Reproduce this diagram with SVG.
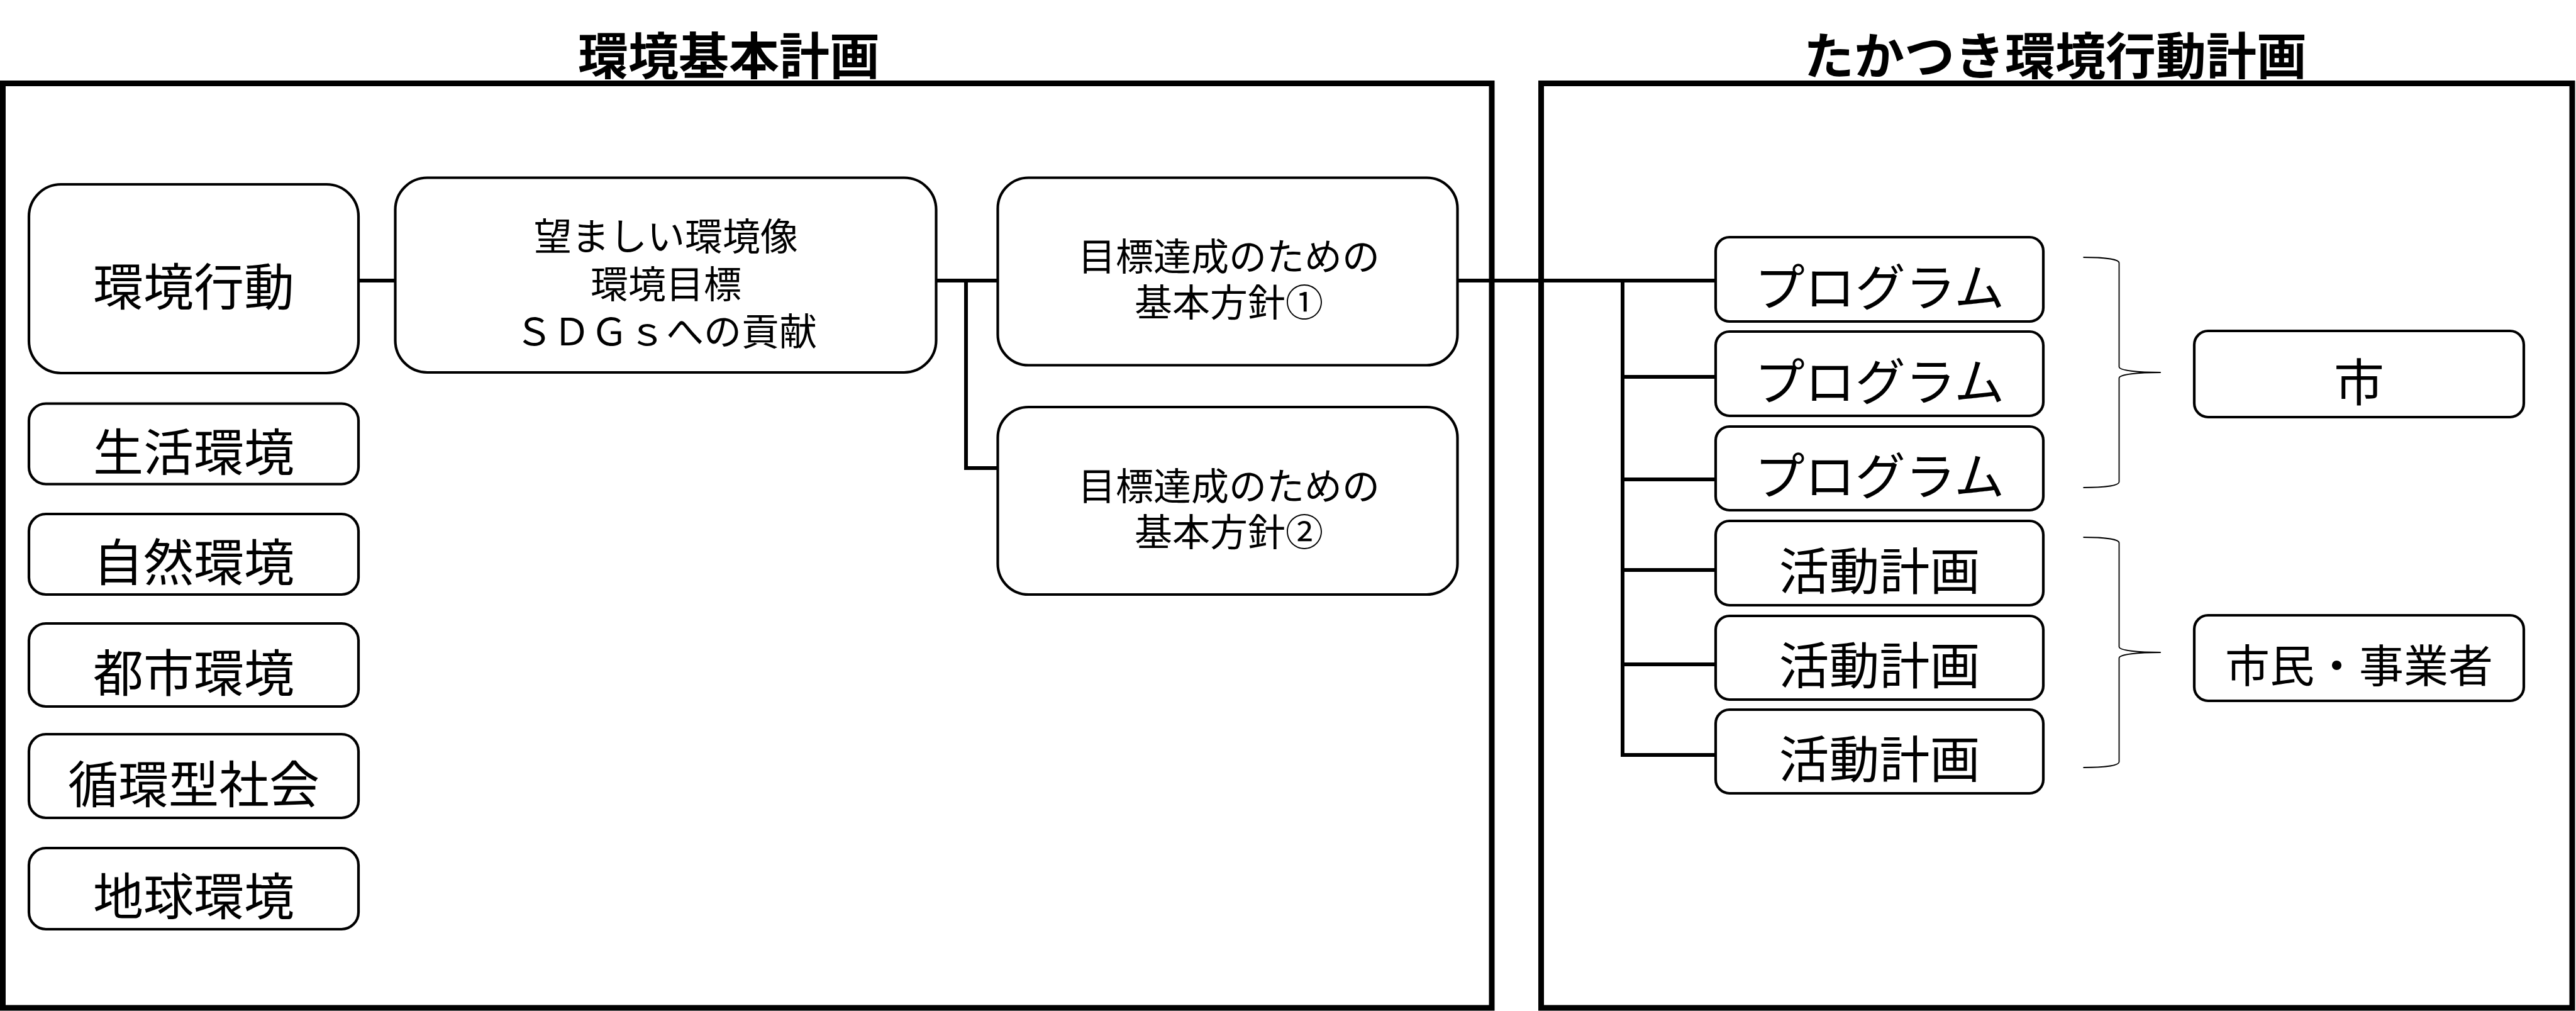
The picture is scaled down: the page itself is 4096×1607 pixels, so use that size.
<svg xmlns="http://www.w3.org/2000/svg" width="4096" height="1607" viewBox="0 0 4096 1607">
<style>
text{font-family:"Noto Sans CJK JP","Noto Sans CJK SC",sans-serif;fill:#000;text-anchor:middle;dominant-baseline:central}
.title{font-size:80px;font-weight:bold}
.big{font-size:80px}
.mid{font-size:71px}
.small{font-size:60px}
.frame{fill:none;stroke:#000;stroke-width:9}
.box{fill:#fff;stroke:#000;stroke-width:4.2}
.conn{fill:none;stroke:#000;stroke-width:6;stroke-linejoin:miter;stroke-linecap:butt}
.brace{fill:none;stroke:#000;stroke-width:1.8}
</style>
<rect width="4096" height="1607" fill="#fff"/>
<g id="frames">
<rect class="frame" x="4.5" y="132.5" width="2367.5" height="1469.5"/>
<rect class="frame" x="2450.5" y="132.5" width="1639.5" height="1469.5"/>
<text class="title" x="1159" y="83">環境基本計画</text>
<text class="title" x="3268" y="83">たかつき環境行動計画</text>
</g>
<g id="connectors">
<path class="conn" d="M570,446 H628.5"/>
<path class="conn" d="M1488.5,446 H1586.5"/>
<path class="conn" d="M1536,446 V744 H1586.5"/>
<path class="conn" d="M2317.5,446 H2728"/>
<path class="conn" d="M2580,446 V1200 H2728"/>
<path class="conn" d="M2580,599 H2728 M2580,762 H2728 M2580,906 H2728 M2580,1056 H2728"/>
<path class="brace" d="M3312.5,409 C3345,409 3369.5,412 3369.5,418 V583 C3369.5,589 3400,592 3435.8,592 C3400,592 3369.5,595 3369.5,601 V766 C3369.5,772 3345,775 3312.5,775"/>
<path class="brace" d="M3312.5,854 C3345,854 3369.5,857 3369.5,863 V1028 C3369.5,1034 3400,1037 3435.8,1037 C3400,1037 3369.5,1040 3369.5,1046 V1211 C3369.5,1217 3345,1220 3312.5,1220"/>
</g>
<g id="n-kankyo-kodo">
<rect class="box" x="46" y="293" width="524" height="300" rx="51"/>
<text class="big" x="308" y="450">環境行動</text>
</g>
<g id="n-seikatsu">
<rect class="box" x="46" y="641.5" width="524" height="128" rx="27"/>
<text class="big" x="308" y="713">生活環境</text>
</g>
<g id="n-shizen">
<rect class="box" x="46" y="817" width="524" height="128" rx="27"/>
<text class="big" x="308" y="888">自然環境</text>
</g>
<g id="n-toshi">
<rect class="box" x="46" y="991" width="524" height="132" rx="27"/>
<text class="big" x="308" y="1064">都市環境</text>
</g>
<g id="n-junkan">
<rect class="box" x="46" y="1167" width="524" height="133" rx="27"/>
<text class="big" x="308" y="1241">循環型社会</text>
</g>
<g id="n-chikyu">
<rect class="box" x="46" y="1348" width="524" height="129" rx="27"/>
<text class="big" x="308" y="1419">地球環境</text>
</g>
<g id="n-nozomashii">
<rect class="box" x="628.5" y="282.5" width="860" height="309.5" rx="51"/>
<text class="small"><tspan x="1059" y="371">望ましい環境像</tspan><tspan x="1059" y="447">環境目標</tspan><tspan x="1059" y="522">ＳＤＧｓへの貢献</tspan></text>
</g>
<g id="n-hoshin1">
<rect class="box" x="1586.5" y="282.5" width="731" height="298" rx="49"/>
<text class="small"><tspan x="1954" y="403">目標達成のための</tspan><tspan x="1954" y="476">基本方針①</tspan></text>
</g>
<g id="n-hoshin2">
<rect class="box" x="1586.5" y="647" width="731" height="298" rx="49"/>
<text class="small"><tspan x="1954" y="768">目標達成のための</tspan><tspan x="1954" y="841">基本方針②</tspan></text>
</g>
<g id="n-program1">
<rect class="box" x="2728" y="377" width="521" height="134" rx="22"/>
<text class="big" x="2988.5" y="451">プログラム</text>
</g>
<g id="n-program2">
<rect class="box" x="2728" y="527" width="521" height="134" rx="22"/>
<text class="big" x="2988.5" y="601">プログラム</text>
</g>
<g id="n-program3">
<rect class="box" x="2728" y="678" width="521" height="133" rx="22"/>
<text class="big" x="2988.5" y="751">プログラム</text>
</g>
<g id="n-katsudo1">
<rect class="box" x="2728" y="828" width="521" height="134" rx="22"/>
<text class="big" x="2988.5" y="902">活動計画</text>
</g>
<g id="n-katsudo2">
<rect class="box" x="2728" y="979" width="521" height="133" rx="22"/>
<text class="big" x="2988.5" y="1052">活動計画</text>
</g>
<g id="n-katsudo3">
<rect class="box" x="2728" y="1128" width="521" height="133" rx="22"/>
<text class="big" x="2988.5" y="1201">活動計画</text>
</g>
<g id="n-shi">
<rect class="box" x="3489" y="526" width="524" height="137" rx="22"/>
<text class="big" x="3751" y="602">市</text>
</g>
<g id="n-shimin">
<rect class="box" x="3489" y="978" width="524" height="136" rx="22"/>
<text class="mid" x="3751" y="1053">市民・事業者</text>
</g>
</svg>
